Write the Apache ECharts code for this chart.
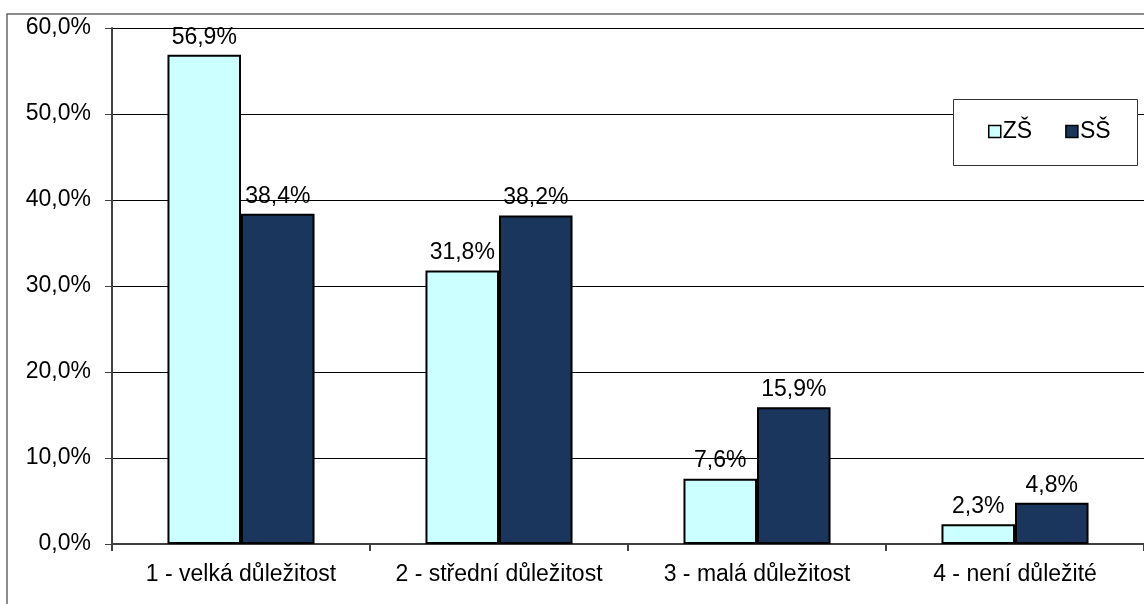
<!DOCTYPE html>
<html><head><meta charset="utf-8">
<script src="https://cdn.jsdelivr.net/npm/echarts@6/dist/echarts.min.js"></script>
<style>html,body{margin:0;padding:0;background:#fff}#c{width:1144px;height:604px}</style>
</head><body><div id="c"></div>
<script>
const categories = ['1 - velká důležitost', '2 - střední důležitost', '3 - malá důležitost', '4 - není důležité'];
const seriesNames = ['ZŠ', 'SŠ'];
const zsValues = [56.9, 31.8, 7.6, 2.3];
const ssValues = [38.4, 38.2, 15.9, 4.8];
const yTicks = [0, 10, 20, 30, 40, 50, 60];

const fmt = v => v.toFixed(1).replace('.', ',') + '%';
const font = 'Liberation Sans, Arial, sans-serif';
const fs = 23;
const chart = echarts.init(document.getElementById('c'), null, {renderer: 'canvas'});
const labelCfg = {show: true, position: 'top', distance: 6, color: '#000', fontSize: fs, fontFamily: font,
  formatter: p => fmt(p.value)};
chart.setOption({
  animation: false,
  backgroundColor: '#fff',
  graphic: [
    {type: 'rect', shape: {x: 7, y: 14, width: 1150, height: 620}, style: {fill: null, stroke: '#666', lineWidth: 1.5}, z: -1},
    {type: 'rect', shape: {x: 953.5, y: 99.5, width: 184, height: 66}, style: {fill: '#fff', stroke: '#333', lineWidth: 1}, z: 10}
  ],
  legend: {
    left: 988, top: 120, itemWidth: 12, itemHeight: 12, itemGap: 33, padding: 0, z: 20, icon: 'rect',
    textStyle: {fontSize: fs, fontFamily: font, color: '#000', padding: [0, 0, 0, -3]},
    data: seriesNames.map(n => ({name: n, itemStyle: {borderColor: '#000', borderWidth: 1.5}}))
  },
  grid: {left: 112, right: -8, top: 28, bottom: 60, containLabel: false},
  xAxis: {
    type: 'category', data: categories,
    axisLine: {lineStyle: {color: '#404040', width: 2}},
    axisTick: {show: true, interval: 0, length: 7, lineStyle: {color: '#404040', width: 2}},
    axisLabel: {interval: 0, hideOverlap: false, fontSize: fs, fontFamily: font, color: '#000', margin: 19}
  },
  yAxis: {
    type: 'value', min: yTicks[0], max: yTicks[yTicks.length - 1], interval: 10,
    axisLine: {show: true, lineStyle: {color: '#404040', width: 2}},
    axisTick: {show: true, length: 7, lineStyle: {color: '#404040', width: 1}},
    axisLabel: {fontSize: fs, fontFamily: font, color: '#000', margin: 21, formatter: v => fmt(v)},
    splitLine: {lineStyle: {color: '#000', width: 1}}
  },
  series: [
    {name: seriesNames[0], type: 'bar', data: zsValues, barGap: '0%', barCategoryGap: '43%',
     itemStyle: {color: '#CCFFFF', borderColor: '#000', borderWidth: 2}, label: labelCfg},
    {name: seriesNames[1], type: 'bar', data: ssValues,
     itemStyle: {color: '#1B365D', borderColor: '#000', borderWidth: 2}, label: labelCfg}
  ]
});
</script></body></html>
